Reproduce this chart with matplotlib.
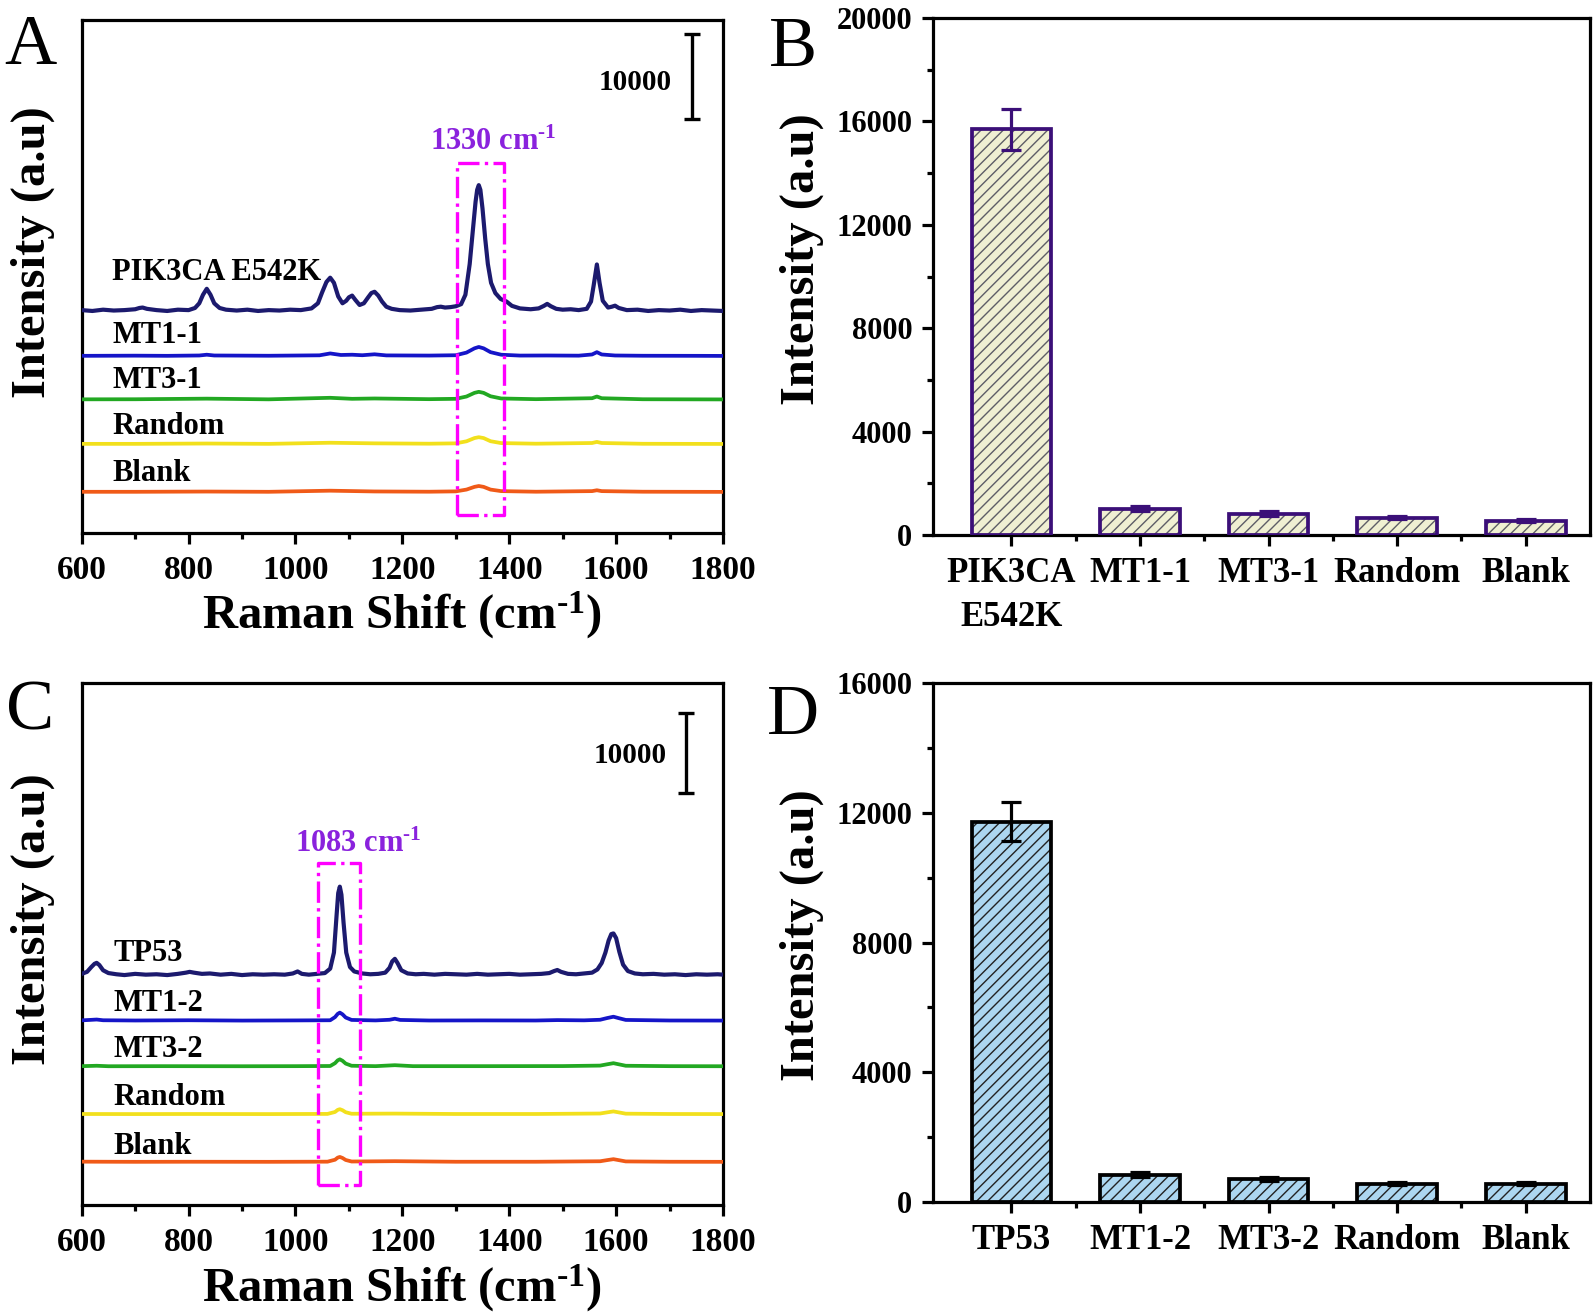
import numpy as np
import matplotlib

matplotlib.use("Agg")
import matplotlib.pyplot as plt
from matplotlib.ticker import MultipleLocator, FixedLocator

plt.rcParams.update({
    "font.family": ["Liberation Serif", "DejaVu Serif"],
    "font.weight": "bold",
    "axes.labelweight": "bold",
    "mathtext.fontset": "custom",
    "mathtext.rm": "Liberation Serif:bold",
    "mathtext.it": "Liberation Serif:bold",
    "mathtext.bf": "Liberation Serif:bold",
    "hatch.linewidth": 1.0,
})

# ---- panel A spectra: (Raman shift, intensity above own baseline) ----------
pik3ca = [(600, 100), (620, 0), (640, 150), (660, 50), (680, 100), (700, 200),
          (708, 350), (714, 400), (722, 250), (740, 100), (760, 0), (780, 150),
          (800, 100), (812, 350), (820, 900), (827, 1900), (834, 2600), (841, 1900),
          (848, 900), (858, 350), (870, 150), (890, 50), (910, 150), (930, 0),
          (950, 100), (970, 50), (990, 150), (1010, 100), (1030, 300), (1042, 900),
          (1050, 2200), (1058, 3400), (1065, 3900), (1072, 3300), (1080, 1700),
          (1088, 900), (1095, 1200), (1100, 1600), (1106, 1800), (1112, 1300),
          (1120, 700), (1128, 900), (1136, 1600), (1142, 2100), (1148, 2250),
          (1155, 1800), (1162, 1100), (1170, 500), (1180, 250), (1195, 100),
          (1215, 50), (1235, 150), (1255, 250), (1265, 450), (1272, 500), (1280, 400),
          (1290, 450), (1300, 550), (1310, 800), (1318, 1900), (1326, 5500),
          (1332, 9500), (1337, 12800), (1340, 14200), (1343, 14750), (1346, 14200),
          (1350, 12000), (1355, 8500), (1360, 5500), (1366, 3300), (1374, 2100),
          (1384, 1400), (1395, 1100), (1405, 600), (1420, 300), (1440, 200),
          (1455, 300), (1465, 600), (1471, 830), (1478, 550), (1488, 250), (1500, 150),
          (1515, 200), (1530, 100), (1545, 250), (1553, 1100), (1558, 3000),
          (1564, 5450), (1569, 3300), (1575, 1200), (1585, 400), (1592, 500),
          (1598, 620), (1605, 350), (1620, 100), (1640, 150), (1660, 0), (1680, 100),
          (1700, 50), (1720, 150), (1740, 0), (1760, 100), (1780, 50), (1800, 0)]
mt1_1 = [(600, 20), (700, 40), (760, 20), (820, 60), (834, 150), (848, 60), (950, 30),
         (1045, 80), (1065, 300), (1085, 120), (1106, 150), (1125, 90), (1148, 200),
         (1170, 70), (1250, 50), (1300, 90), (1320, 400), (1335, 900), (1343, 1060),
         (1352, 900), (1365, 450), (1385, 150), (1420, 50), (1471, 60), (1530, 40),
         (1555, 180), (1564, 450), (1573, 180), (1598, 60), (1650, 30), (1750, 20),
         (1800, 10)]
mt3_1 = [(600, 20), (700, 30), (834, 100), (950, 20), (1065, 200), (1106, 80),
         (1148, 120), (1250, 40), (1300, 80), (1320, 350), (1335, 780), (1343, 900),
         (1352, 780), (1365, 380), (1385, 120), (1450, 40), (1555, 150), (1564, 350),
         (1573, 150), (1650, 30), (1800, 10)]
random_a = [(600, 20), (700, 20), (834, 60), (950, 20), (1065, 150), (1148, 80),
            (1250, 40), (1300, 80), (1320, 320), (1335, 700), (1343, 800), (1352, 700),
            (1365, 330), (1385, 110), (1450, 40), (1555, 120), (1564, 250), (1573, 120),
            (1650, 30), (1800, 10)]
blank_a = [(600, 20), (700, 20), (834, 50), (950, 20), (1065, 150), (1148, 60),
           (1250, 30), (1300, 70), (1320, 280), (1335, 600), (1343, 700), (1352, 600),
           (1365, 280), (1385, 100), (1450, 30), (1555, 100), (1564, 200), (1573, 100),
           (1650, 30), (1800, 10)]
names_a = ["PIK3CA E542K", "MT1-1", "MT3-1", "Random", "Blank"]
offsets_a = [26030, 20750, 15650, 10430, 4810]

# ---- panel C spectra --------------------------------------------------------
tp53 = [(600, 150), (610, 400), (618, 1000), (624, 1400), (628, 1520), (633, 1250),
        (640, 600), (650, 250), (665, 100), (680, 0), (700, 150), (720, 50), (740, 100),
        (760, 0), (780, 150), (795, 300), (802, 400), (810, 300), (825, 150), (840, 200),
        (860, 50), (880, 150), (900, 0), (920, 100), (940, 50), (960, 100), (980, 50),
        (995, 200), (1004, 450), (1012, 150), (1025, 50), (1040, 150), (1055, 250),
        (1065, 800), (1072, 2800), (1077, 7500), (1080, 10200), (1083, 11000),
        (1086, 10000), (1090, 6500), (1095, 2800), (1102, 1000), (1110, 450),
        (1125, 200), (1140, 100), (1155, 150), (1168, 300), (1176, 900), (1181, 1700),
        (1186, 2020), (1191, 1500), (1198, 600), (1210, 200), (1225, 100), (1240, 150),
        (1260, 50), (1280, 150), (1300, 100), (1320, 50), (1340, 150), (1360, 50),
        (1380, 100), (1400, 150), (1420, 50), (1440, 100), (1460, 150), (1475, 250),
        (1484, 500), (1490, 630), (1497, 400), (1510, 150), (1525, 100), (1540, 200),
        (1555, 300), (1565, 700), (1573, 1500), (1580, 2800), (1586, 4300),
        (1591, 5100), (1595, 5180), (1600, 4600), (1606, 2900), (1613, 1300),
        (1622, 500), (1635, 200), (1650, 100), (1670, 150), (1690, 50), (1710, 100),
        (1730, 0), (1750, 100), (1770, 50), (1790, 100), (1800, 50)]
mt1_2 = [(600, 50), (615, 100), (628, 150), (640, 60), (700, 30), (800, 60), (900, 20),
         (1000, 40), (1065, 60), (1074, 450), (1079, 850), (1083, 1010), (1088, 800),
         (1094, 400), (1105, 100), (1150, 40), (1176, 120), (1186, 250), (1196, 100),
         (1250, 30), (1350, 40), (1450, 30), (1490, 80), (1540, 50), (1570, 120),
         (1583, 330), (1595, 500), (1605, 320), (1618, 100), (1700, 30), (1800, 20)]
mt3_2 = [(600, 30), (628, 80), (650, 20), (750, 30), (900, 20), (1000, 30), (1065, 50),
         (1074, 400), (1079, 750), (1083, 880), (1088, 700), (1094, 350), (1105, 80),
         (1150, 30), (1186, 150), (1220, 30), (1350, 30), (1500, 40), (1570, 100),
         (1583, 260), (1595, 400), (1605, 260), (1618, 80), (1700, 30), (1800, 20)]
random_c = [(600, 30), (700, 20), (800, 30), (950, 20), (1060, 40), (1074, 280),
            (1079, 540), (1083, 630), (1088, 500), (1094, 250), (1105, 60), (1186, 80),
            (1300, 30), (1450, 30), (1570, 90), (1583, 230), (1595, 350), (1605, 230),
            (1618, 70), (1700, 30), (1800, 20)]
blank_c = [(600, 40), (700, 20), (800, 30), (950, 20), (1060, 40), (1074, 280),
           (1079, 540), (1083, 630), (1088, 500), (1094, 250), (1105, 60), (1186, 100),
           (1300, 30), (1450, 30), (1570, 90), (1583, 230), (1595, 350), (1605, 230),
           (1618, 70), (1700, 30), (1800, 20)]
names_c = ["TP53", "MT1-2", "MT3-2", "Random", "Blank"]
offsets_c = [28600, 22920, 17240, 11290, 5350]

# ---- bar panels -------------------------------------------------------------
names_b = ["PIK3CA\nE542K", "MT1-1", "MT3-1", "Random", "Blank"]
vals_b = [15690, 1020, 830, 670, 550]
errs_b = [800, 90, 80, 70, 60]
names_d = ["TP53", "MT1-2", "MT3-2", "Random", "Blank"]
vals_d = [11730, 840, 720, 560, 560]
errs_d = [600, 70, 60, 50, 50]

LINE_COLORS = ["#1c1a6e", "#1515c8", "#22a822", "#f2e01c", "#f05a18"]
W, H = 1594, 1316
LABEL_FS = 35
SUP = r"$^{\text{-1}}$"

fig = plt.figure(figsize=(W / 100, H / 100), dpi=100)


def px_axes(l, t, r, b):
    return fig.add_axes([l / W, 1 - b / H, (r - l) / W, (b - t) / H])


def style_axes(ax):
    for s in ax.spines.values():
        s.set_linewidth(2.3)
    ax.tick_params(which="major", direction="out", length=8, width=2.3,
                   labelsize=22, pad=7)
    ax.tick_params(which="minor", direction="out", length=4.5, width=2.3)
    ax.tick_params(top=False, right=False, which="both")


def spectra_panel(ax, spectra, offsets, names, label_y, ymax, box, peak_txt,
                  bar_x, bar_y, num_xy, label_x):
    for i, (pts, off, col) in enumerate(zip(spectra, offsets, LINE_COLORS)):
        x, y = np.array(pts, dtype=float).T
        ax.plot(x, y + off, color=col, lw=3.0 if i == 0 else 2.7,
                solid_joinstyle="round", zorder=3)
    for name, ly in zip(names, label_y):
        ax.text(label_x, ly, name, fontsize=22, ha="left", va="center")
    x0, x1, y0, y1 = box
    ax.plot([x0, x1, x1, x0, x0], [y0, y0, y1, y1, y0], color="#ff00ff",
            lw=2.4, ls="-.", zorder=4)
    ax.text(peak_txt[0], peak_txt[1], peak_txt[2] + " cm" + SUP, color="#8a22dd",
            fontsize=22, ha="center", va="center")
    # 10000-count scale bar
    ax.errorbar([bar_x], [bar_y + 5000], yerr=[[5000], [5000]], fmt="none",
                ecolor="black", elinewidth=2.4, capsize=6, capthick=2.4)
    ax.text(num_xy[0], num_xy[1], "10000", fontsize=21, ha="center", va="center")
    ax.set_xlim(600, 1800)
    ax.set_ylim(0, ymax)
    ax.xaxis.set_major_locator(MultipleLocator(200))
    ax.xaxis.set_minor_locator(MultipleLocator(100))
    ax.set_yticks([])
    style_axes(ax)
    ax.tick_params(axis="x", pad=8, labelsize=24)
    ax.text(0.5, -0.16, "Raman Shift (cm" + SUP + ")", transform=ax.transAxes,
            fontsize=LABEL_FS, ha="center", va="center")
    ax.text(-0.076, 0.548, "Intensity (a.u)", transform=ax.transAxes,
            fontsize=LABEL_FS, ha="center", va="center", rotation=90)


def bar_panel(ax, names, vals, errs, face, hatch_col, edge, ymax, ylab_y):
    x = np.arange(len(vals))
    ax.bar(x, vals, width=0.62, color=face, edgecolor=hatch_col, linewidth=0,
           hatch="///", zorder=2)
    ax.bar(x, vals, width=0.62, fill=False, edgecolor=edge, linewidth=2.7, zorder=3)
    ax.errorbar(x, vals, yerr=errs, fmt="none", ecolor=edge, elinewidth=2.3,
                capsize=7, capthick=2.3, zorder=4)
    ax.set_xlim(-0.61, 4.5)
    ax.set_ylim(0, ymax)
    ax.set_xticks(x)
    ax.set_xticklabels(names, linespacing=1.45)
    ax.xaxis.set_minor_locator(FixedLocator(x[:-1] + 0.5))
    ax.yaxis.set_major_locator(MultipleLocator(4000))
    ax.yaxis.set_minor_locator(MultipleLocator(2000))
    style_axes(ax)
    ax.tick_params(axis="x", pad=8, labelsize=25)
    ax.text(-0.2, ylab_y, "Intensity (a.u)", transform=ax.transAxes,
            fontsize=LABEL_FS, ha="center", va="center", rotation=90)


axA = px_axes(81.7, 20, 723, 533)
spectra_panel(axA, [pik3ca, mt1_1, mt3_1, random_a, blank_a], offsets_a, names_a,
              [30540, 23150, 17820, 12430, 6950], 60140,
              (1303, 1390, 2060, 43410), (1370, 45840, "1330"),
              1742, 48500, (1635, 52870), 657)

axB = px_axes(933, 18, 1590, 535)
bar_panel(axB, names_b, vals_b, errs_b, "#f0f0d2", "#5e5e66", "#3b0f78", 20000, 0.534)

axC = px_axes(81.7, 683, 723, 1205)
spectra_panel(axC, [tp53, mt1_2, mt3_2, random_c, blank_c], offsets_c, names_c,
              [31270, 25070, 19280, 13310, 7250], 64930,
              (1042, 1121, 2490, 42540), (1117, 44900, "1083"),
              1731, 51240, (1626, 55970), 660)

axD = px_axes(933, 683, 1590, 1202)
bar_panel(axD, names_d, vals_d, errs_d, "#acd6f0", "#222222", "black", 16000, 0.514)

for letter, (lx, ly) in zip("ABCD", [(30.5, 46), (793, 49), (30.5, 712), (793, 717)]):
    fig.text(lx / W, 1 - ly / H, letter, fontsize=52, fontweight="normal",
             ha="center", va="center")

fig.savefig("out.png", dpi=100, facecolor="white")
